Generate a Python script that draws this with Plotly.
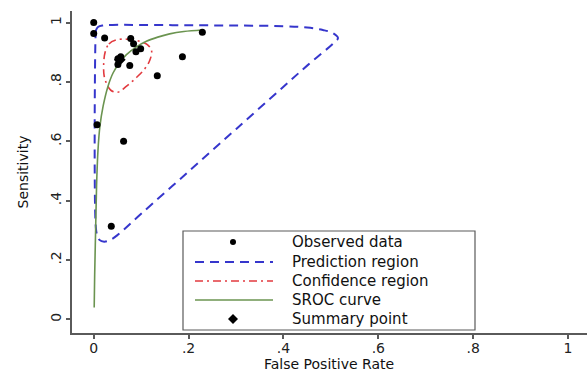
import plotly.graph_objects as go

# ---------------- data ----------------
obs_fpr = [0.0, 0.0, 0.023, 0.078, 0.084, 0.099, 0.089, 0.057, 0.051, 0.051, 0.076,
           0.187, 0.134, 0.229, 0.007, 0.063, 0.037]
obs_sens = [1.0, 0.963, 0.948, 0.946, 0.929, 0.912, 0.902, 0.885, 0.878, 0.859, 0.855,
            0.885, 0.821, 0.967, 0.656, 0.600, 0.314]

pred_fpr = [0.004, 0.005, 0.009, 0.018, 0.04, 0.1, 0.2, 0.3, 0.4, 0.45, 0.483, 0.504, 0.515,
            0.505, 0.45, 0.4, 0.3, 0.2, 0.1, 0.05, 0.035, 0.022, 0.012, 0.007, 0.004, 0.004]
pred_sens = [0.96, 0.975, 0.985, 0.99, 0.992, 0.992, 0.991, 0.99, 0.988, 0.983, 0.975, 0.965, 0.948,
             0.93, 0.855, 0.784, 0.641, 0.498, 0.356, 0.284, 0.268, 0.262, 0.268, 0.285, 0.32, 0.96]

conf_fpr = [0.024, 0.032, 0.048, 0.07, 0.095, 0.113, 0.122, 0.118, 0.108, 0.09, 0.07,
            0.05, 0.036, 0.027, 0.022, 0.021, 0.024]
conf_sens = [0.9, 0.928, 0.942, 0.944, 0.938, 0.926, 0.905, 0.872, 0.845, 0.815, 0.787,
             0.765, 0.772, 0.795, 0.82, 0.86, 0.9]

sroc_fpr = [0.001, 0.002, 0.004, 0.006, 0.009, 0.013, 0.02, 0.03, 0.041, 0.055, 0.069,
            0.09, 0.111, 0.135, 0.16, 0.19, 0.229]
sroc_sens = [0.04, 0.15, 0.3, 0.45, 0.57, 0.65, 0.72, 0.785, 0.831, 0.866, 0.892,
             0.918, 0.937, 0.951, 0.962, 0.97, 0.975]

summary_fpr = [0.055]
summary_sens = [0.875]

tick_vals = [0, 0.2, 0.4, 0.6, 0.8, 1]
tick_text = ["0", ".2", ".4", ".6", ".8", "1"]

legend_labels = ["Observed data", "Prediction region", "Confidence region",
                 "SROC curve", "Summary point"]

# ---------------- styles ----------------
BLUE = "#3636cc"
RED = "#e23a3f"
GREEN = "#6b9450"
AXIS = "#5a5a5a"
FONT = "DejaVu Sans"

W, H = 587, 374
ML, MR, MT, MB = 72, 0, 11, 41

fig = go.Figure()
fig.add_trace(go.Scatter(x=pred_fpr, y=pred_sens, mode="lines", line_shape="spline",
                         line=dict(color=BLUE, width=2, dash="9px,6px"),
                         name=legend_labels[1], showlegend=False))
fig.add_trace(go.Scatter(x=conf_fpr, y=conf_sens, mode="lines", line_shape="spline",
                         line=dict(color=RED, width=1.6, dash="8px,4px,2px,4px"),
                         name=legend_labels[2], showlegend=False))
fig.add_trace(go.Scatter(x=sroc_fpr, y=sroc_sens, mode="lines", line_shape="spline",
                         line=dict(color=GREEN, width=1.6),
                         name=legend_labels[3], showlegend=False))
fig.add_trace(go.Scatter(x=summary_fpr, y=summary_sens, mode="markers",
                         marker=dict(symbol="diamond", size=9, color="black"),
                         name=legend_labels[4], showlegend=False))
fig.add_trace(go.Scatter(x=obs_fpr, y=obs_sens, mode="markers",
                         marker=dict(symbol="circle", size=7, color="black"),
                         name=legend_labels[0], showlegend=False))

# ---------------- manual Stata-style legend ----------------
pw, ph = W - ML - MR, H - MT - MB
def px(xp):
    return (xp - ML) / pw
def py(yp):
    return (H - MB - yp) / ph

box = dict(x0=183, x1=475, y0=231, y1=330)
fig.add_shape(type="rect", xref="paper", yref="paper",
              x0=px(box["x0"]), x1=px(box["x1"]), y0=py(box["y1"]), y1=py(box["y0"]),
              line=dict(color=AXIS, width=1.2), fillcolor="white", layer="above")
rows = [242, 262, 281, 300, 319]
sym_l, sym_r, sym_c, text_x = 195, 273, 233, 290
line_styles = [None, dict(color=BLUE, width=2, dash="9px,6px"),
               dict(color=RED, width=1.6, dash="8px,4px,2px,4px"),
               dict(color=GREEN, width=1.6), None]
for i, (lab, ry) in enumerate(zip(legend_labels, rows)):
    if line_styles[i] is not None:
        fig.add_shape(type="line", xref="paper", yref="paper",
                      x0=px(sym_l), x1=px(sym_r), y0=py(ry), y1=py(ry),
                      line=line_styles[i], layer="above")
    elif i == 0:
        r = 3
        fig.add_shape(type="circle", xref="paper", yref="paper",
                      x0=px(sym_c - r), x1=px(sym_c + r), y0=py(ry + r), y1=py(ry - r),
                      line=dict(color="black", width=0), fillcolor="black", layer="above")
    else:
        d = 5
        path = "M {} {} L {} {} L {} {} L {} {} Z".format(
            px(sym_c - d), py(ry), px(sym_c), py(ry - d),
            px(sym_c + d), py(ry), px(sym_c), py(ry + d))
        fig.add_shape(type="path", xref="paper", yref="paper", path=path,
                      line=dict(color="black", width=0), fillcolor="black", layer="above")
    fig.add_annotation(xref="paper", yref="paper", x=px(text_x), y=py(ry),
                       text=lab, showarrow=False, xanchor="left", yanchor="middle",
                       font=dict(family=FONT, size=15, color="#111"))

axis_common = dict(showgrid=False, zeroline=False, showline=True, linecolor=AXIS,
                   linewidth=1.5, ticks="outside", ticklen=4, tickwidth=1.5,
                   tickcolor=AXIS, tickvals=tick_vals, ticktext=tick_text,
                   tickfont=dict(family=FONT, size=14, color="#222"), mirror=False)

fig.update_layout(
    width=W, height=H, margin=dict(l=ML, r=MR, t=MT, b=MB),
    paper_bgcolor="white", plot_bgcolor="white", showlegend=False,
    xaxis=dict(range=[-0.0458, 1.04], automargin=False, ticklabelstandoff=-3,
               **axis_common),
    yaxis=dict(range=[-0.0458, 1.039], tickangle=-90, automargin=False,
               title=dict(text="Sensitivity", standoff=16,
                          font=dict(family=FONT, size=14, color="#111")), **axis_common),
)
# x-axis title placed at the very bottom so it clears the tick labels
fig.add_annotation(xref="paper", yref="paper", x=px(329), y=py(H),
                   text="False Positive Rate", showarrow=False,
                   xanchor="center", yanchor="bottom",
                   font=dict(family=FONT, size=14, color="#111"))

fig.write_html("out.html")
